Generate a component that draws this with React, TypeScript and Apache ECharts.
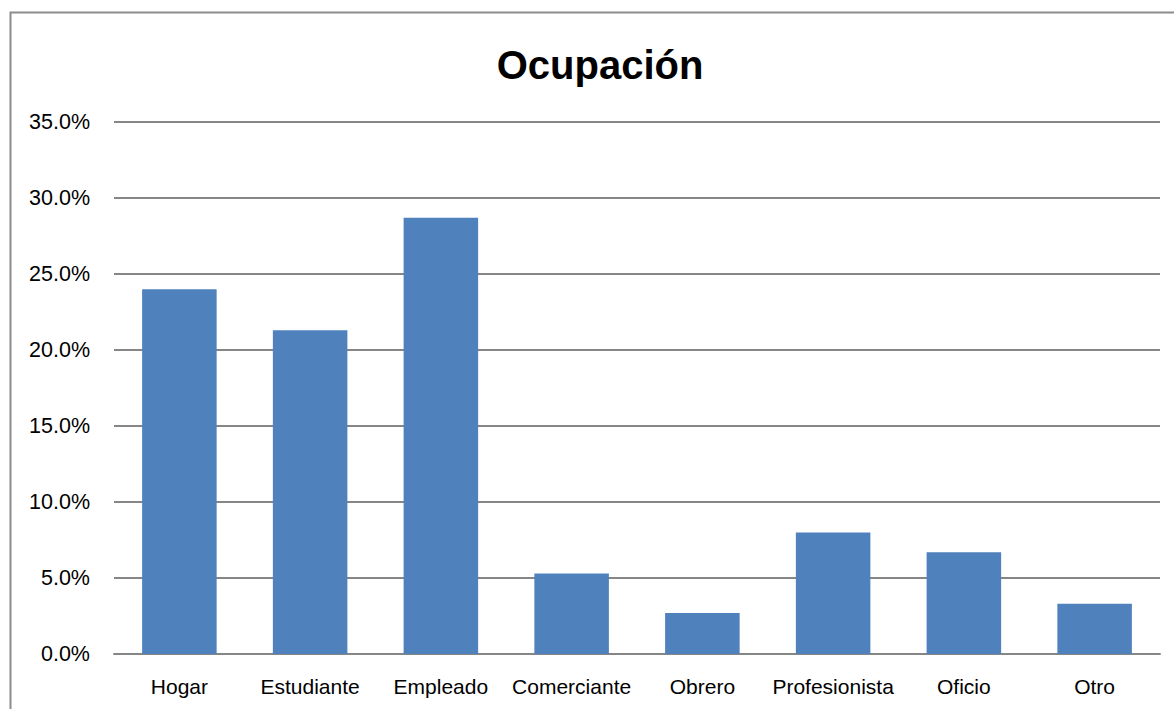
import React, { useEffect, useRef } from "react";
import * as echarts from "echarts";

const categories = ["Hogar", "Estudiante", "Empleado", "Comerciante", "Obrero", "Profesionista", "Oficio", "Otro"];
const values = [24.0, 21.3, 28.7, 5.3, 2.7, 8.0, 6.7, 3.3];
const chartTitle = "Ocupación";

const FONT = "'Liberation Sans', Arial, sans-serif";

export default function App() {
  const ref = useRef<HTMLDivElement>(null);
  useEffect(() => {
    document.body.style.margin = "0";
    const chart = echarts.init(ref.current!, null, { renderer: "svg" });
    chart.setOption({
      animation: false,
      backgroundColor: "#ffffff",
      title: {
        text: chartTitle,
        left: 595,
        textAlign: "center",
        top: 40,
        textStyle: { fontFamily: FONT, fontWeight: "bold", fontSize: 40, color: "#000000" },
      },
      graphic: [
        {
          type: "rect",
          shape: { x: 10.5, y: 12.5, width: 1200, height: 800 },
          style: { fill: "none", stroke: "#8c8c8c", lineWidth: 2 },
          silent: true,
        },
      ],
      grid: { left: 114, right: 14, top: 122, bottom: 55, containLabel: false },
      xAxis: {
        type: "category",
        data: categories,
        axisLine: { show: true, lineStyle: { color: "#868686", width: 2 } },
        axisTick: { show: false },
        axisLabel: { fontFamily: FONT, fontSize: 21, color: "#000000", margin: 22, interval: 0 },
      },
      yAxis: {
        type: "value",
        min: 0,
        max: 35,
        interval: 5,
        axisLine: { show: false },
        axisTick: { show: false },
        splitLine: { lineStyle: { color: "#868686", width: 2 } },
        axisLabel: {
          fontFamily: FONT,
          fontSize: 21.5,
          color: "#000000",
          margin: 24,
          formatter: (v: number) => v.toFixed(1) + "%",
        },
      },
      series: [
        {
          type: "bar",
          data: values,
          barWidth: "57%",
          itemStyle: { color: "#4F81BD" },
        },
      ],
    });
    return () => chart.dispose();
  }, []);
  return <div ref={ref} style={{ width: 1174, height: 709 }} />;
}
